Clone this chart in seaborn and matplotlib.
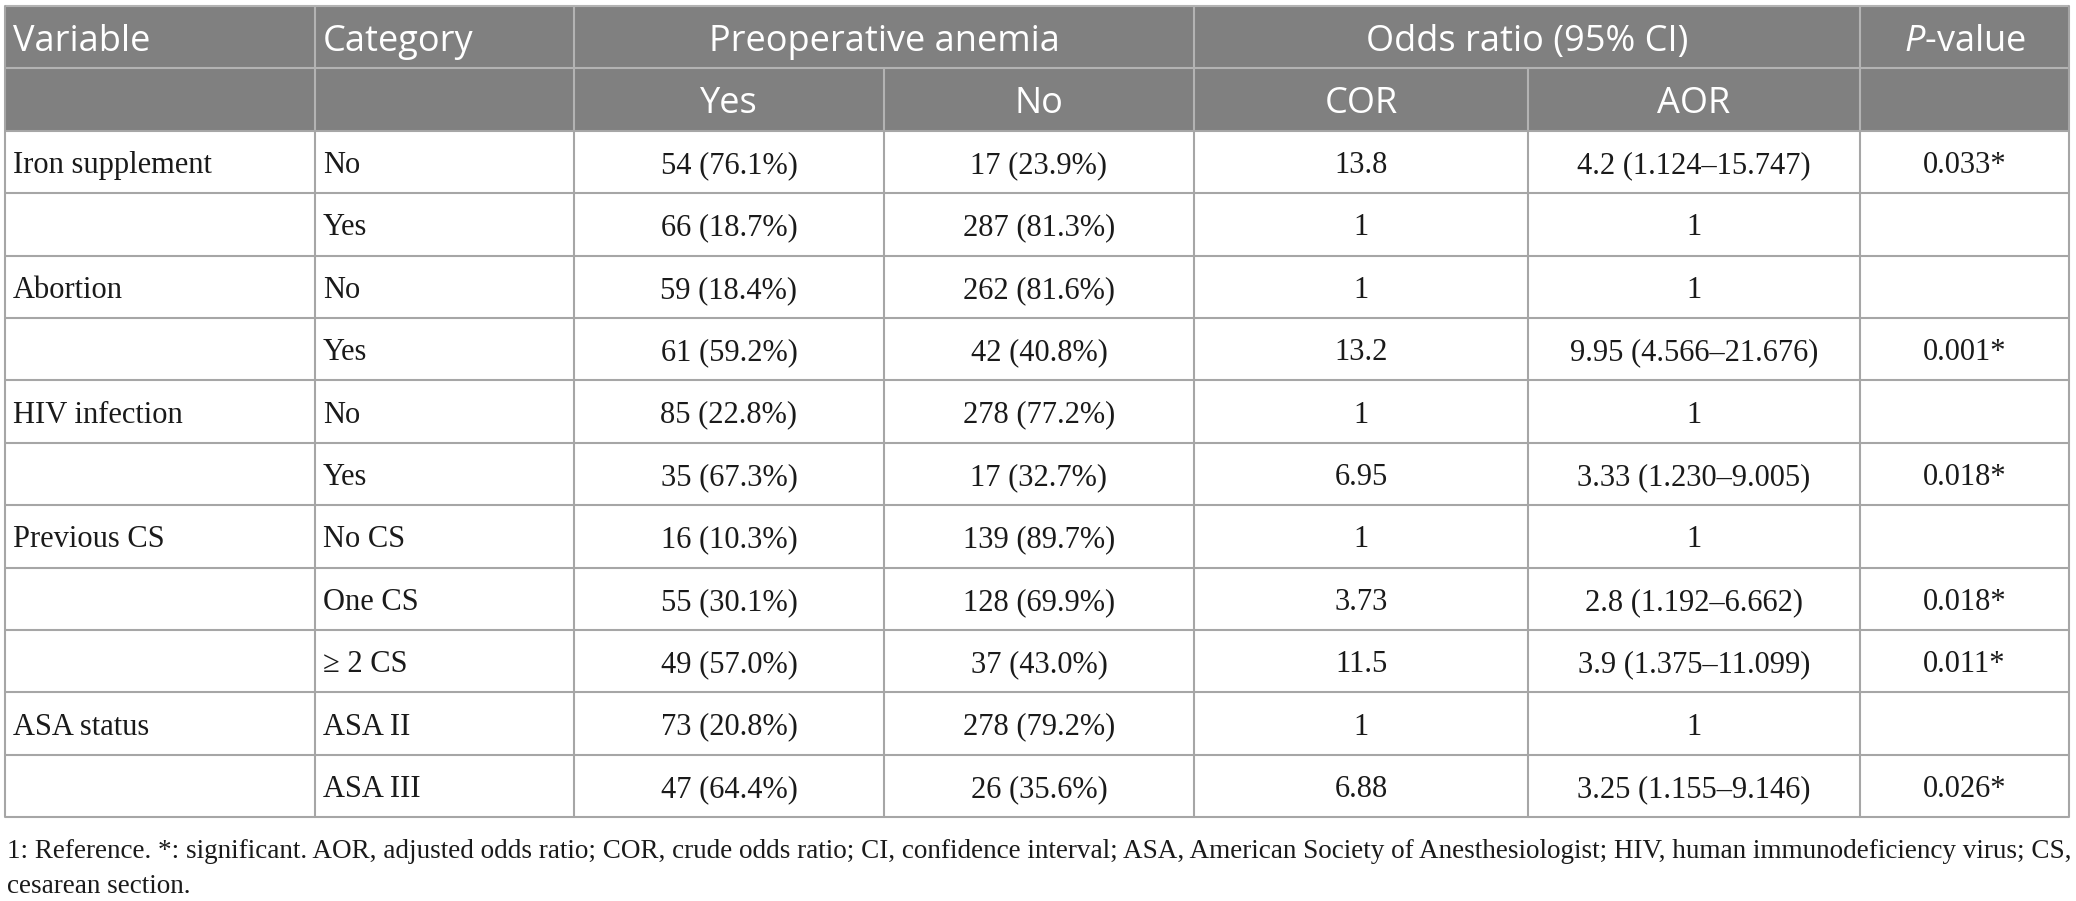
import numpy as np
import pandas as pd
import matplotlib
matplotlib.use('Agg')
import matplotlib.pyplot as plt
import seaborn as sns
from matplotlib.patches import Rectangle

sns.set_theme(style='white')
plt.rcParams['font.family'] = ['Liberation Serif', 'DejaVu Serif']
plt.rcParams['mathtext.fontset'] = 'custom'
plt.rcParams['mathtext.rm'] = 'Open Sans'
plt.rcParams['mathtext.it'] = 'Open Sans:italic'

# table content
variables = ['Iron supplement', '', 'Abortion', '', 'HIV infection', '', 'Previous CS', '', '', 'ASA status', '']
categories = ['No', 'Yes', 'No', 'Yes', 'No', 'Yes', 'No CS', 'One CS', '\u2265 2 CS', 'ASA II', 'ASA III']
yes_n = [54, 66, 59, 61, 85, 35, 16, 55, 49, 73, 47]
yes_pct = [76.1, 18.7, 18.4, 59.2, 22.8, 67.3, 10.3, 30.1, 57.0, 20.8, 64.4]
no_n = [17, 287, 262, 42, 278, 17, 139, 128, 37, 278, 26]
no_pct = [23.9, 81.3, 81.6, 40.8, 77.2, 32.7, 89.7, 69.9, 43.0, 79.2, 35.6]
cor = ['13.8', '1', '1', '13.2', '1', '6.95', '1', '3.73', '11.5', '1', '6.88']
aor = ['4.2 (1.124\u201315.747)', '1', '1', '9.95 (4.566\u201321.676)', '1', '3.33 (1.230\u20139.005)',
       '1', '2.8 (1.192\u20136.662)', '3.9 (1.375\u201311.099)', '1', '3.25 (1.155\u20139.146)']
p_values = ['0.033*', '', '', '0.001*', '', '0.018*', '', '0.018*', '0.011*', '', '0.026*']

header_top = ['Variable', 'Category', 'Preoperative anemia', 'Odds ratio (95% CI)', '$P$-value']
header_sub = ['', '', 'Yes', 'No', 'COR', 'AOR', '']

footnote = ['1: Reference. *: significant. AOR, adjusted odds ratio; COR, crude odds ratio; CI, confidence interval; '
            'ASA, American Society of Anesthesiologist; HIV, human immunodeficiency virus; CS,',
            'cesarean section.']

df = pd.DataFrame({
    'Variable': variables,
    'Category': categories,
    'Yes': ['{} ({:.1f}%)'.format(n, p) for n, p in zip(yes_n, yes_pct)],
    'No': ['{} ({:.1f}%)'.format(n, p) for n, p in zip(no_n, no_pct)],
    'COR': cor,
    'AOR': aor,
    'P': p_values,
})

# layout in pixels
col_edges = [5, 315, 574, 884, 1194, 1528, 1860, 2069]
row_h = 62.4
top = 6
n_rows = 2 + len(df)
row_edges = [top + row_h * i for i in range(n_rows + 1)]

head_bg = '#808080'
head_line = '#b3b3b3'
body_line = '#a6a6a6'
txt_col = '#1a1a1a'

fig = plt.figure(figsize=(20.76, 9.01), dpi=100)
ax = fig.add_axes([0, 0, 1, 1])
ax.set_xlim(0, 2076)
ax.set_ylim(901, 0)
ax.axis('off')

# header background
ax.add_patch(Rectangle((col_edges[0], row_edges[0]), col_edges[-1] - col_edges[0],
                       row_edges[2] - row_edges[0], color=head_bg, lw=0))

lw = 1.5
# horizontal lines
for i, y in enumerate(row_edges):
    c = head_line if i < 2 else body_line
    ax.plot([col_edges[0], col_edges[-1]], [y, y], color=c, lw=lw, solid_capstyle='butt')

# vertical lines, header row 1 (spanning cells)
for x in [315, 574, 1194, 1860]:
    ax.plot([x, x], [row_edges[0], row_edges[1]], color=head_line, lw=lw)
for x in col_edges[1:-1]:
    ax.plot([x, x], [row_edges[1], row_edges[2]], color=head_line, lw=lw)
for x in col_edges[1:-1]:
    ax.plot([x, x], [row_edges[2], row_edges[-1]], color=body_line, lw=lw)
for x in [col_edges[0], col_edges[-1]]:
    ax.plot([x, x], [row_edges[0], row_edges[-1]], color=body_line, lw=lw)

pad = 8
hfont = dict(family='Open Sans', size=26, color='white', va='baseline')
h_off = 13.5
b_off = 11

# header row 1
y1 = (row_edges[0] + row_edges[1]) / 2 + h_off
ax.text(col_edges[0] + pad, y1, header_top[0], ha='left', **hfont)
ax.text(col_edges[1] + pad, y1, header_top[1], ha='left', **hfont)
ax.text((col_edges[2] + col_edges[4]) / 2, y1, header_top[2], ha='center', **hfont)
ax.text((col_edges[4] + col_edges[6]) / 2, y1, header_top[3], ha='center', **hfont)
ax.text((col_edges[6] + col_edges[7]) / 2, y1, header_top[4], ha='center', **hfont)

# header row 2
y2 = (row_edges[1] + row_edges[2]) / 2 + h_off
for j, lab in enumerate(header_sub):
    if lab:
        ax.text((col_edges[j] + col_edges[j + 1]) / 2, y2, lab, ha='center', **hfont)

# body
for i, row in enumerate(df.itertuples(index=False)):
    yb = (row_edges[i + 2] + row_edges[i + 3]) / 2 + b_off
    for j, val in enumerate(row):
        if not val:
            continue
        if j < 2:
            ax.text(col_edges[j] + pad, yb, val, ha='left', va='baseline', size=22, color=txt_col)
        else:
            ax.text((col_edges[j] + col_edges[j + 1]) / 2, yb, val, ha='center', va='baseline',
                    size=22, color=txt_col)

# footnote
ax.text(col_edges[0] + 2, 858, footnote[0], ha='left', va='baseline', size=19.5, color=txt_col)
ax.text(col_edges[0] + 2, 893, footnote[1], ha='left', va='baseline', size=19.5, color=txt_col)

fig.savefig('out.png', dpi=100, facecolor='white')
